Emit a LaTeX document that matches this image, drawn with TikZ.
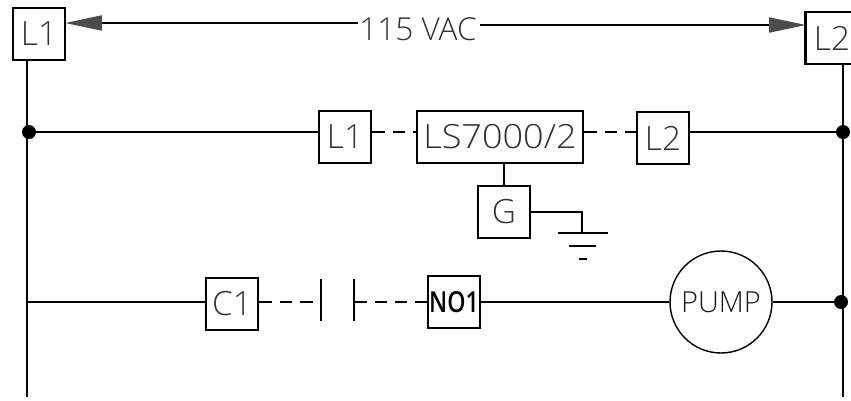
\documentclass[tikz,border=0pt]{standalone}
\usepackage{fontspec}
\setmainfont{Open Sans Light}
\usetikzlibrary{arrows.meta}
\tikzset{
    lbl/.style={draw, line width=1.2pt, inner sep=0pt, text=black!80, font=\fontsize{19}{19}\selectfont, minimum width=1.04cm, minimum height=1.04cm},
    wire/.style={line width=1.1pt},
    dashwire/.style={line width=1.1pt, dash pattern=on 0.25cm off 0.16cm},
    dot/.style={circle, fill=black, inner sep=0pt, minimum size=0.28cm},
    tip/.style={-{Triangle[length=0.74cm, width=0.3cm, color=black!70]}, line width=1.1pt}
}
\begin{document}
\begin{tikzpicture}[x=0.02cm, y=-0.02cm]
            \useasboundingbox (0, 0) rectangle (851, 400);
            \clip (0, 0) rectangle (851, 400);

            \def\xa{27};
            \def\xb{843};
            \def\ya{132};
            \def\yb{302};
            \def\yc{397};

            % top line
            \node[lbl](la) at (39, 34) {L1};
            \node[lbl, minimum width=1.06cm](lb) at (832, 38) {L2};
            \node[text=black!80, font=\fontsize{18}{18}\selectfont](volt) at (418, 29) {115 VAC};
            \draw[tip] (358, 23) -- (65, 23);
            \draw[tip] (480, 25) -- (806, 25);

            % rails
            \node[dot](da) at (29, \ya) {};
            \node[dot](db) at (843, \ya) {};
            \node[dot](dc) at (841, \yb) {};
            \coordinate(ea) at (\xa, \yc);
            \coordinate(eb) at (\xb, \yc);
            \coordinate(ra) at (\xa, \yb);
            \draw[wire] (\xa, 60) -- (ea);
            \draw[wire] (\xb, 64) -- (eb);

            % sensor row
            \node[lbl](lc) at (345, \ya+5) {L1};
            \node[lbl, minimum width=3.32cm](ls) at (500, \ya+5) {\scalebox{1.08}[1]{LS7000/2}};
            \node[lbl](ld) at (663, \ya+6) {L2};
            \draw[wire] (da) -- (lc.west |- da);
            \draw[dashwire] (lc.east |- da) -- (ls.west |- da);
            \draw[dashwire] (ls.east |- db) -- (ld.west |- db);
            \draw[wire] (ld.east |- db) -- (db);

            % ground
            \node[lbl](g) at (504, 212) {G};
            \draw[wire] (g.north |- ls.south) -- (g.north);
            \coordinate(gc) at (582, 233);
            \draw[wire] (g.east) -| (gc);
            \coordinate(ga) at (558, 233);
            \coordinate(gb) at (608, 233);
            \coordinate(gd) at (569, 246);
            \coordinate(ge) at (596, 246);
            \coordinate(gf) at (579, 259);
            \coordinate(gg) at (587, 259);
            \draw[wire] (ga) -- (gb);
            \draw[wire] (gd) -- (ge);
            \draw[wire] (gf) -- (gg);

            % pump row
            \node[lbl](ca) at (232, 304) {C1};
            \node[lbl, text=black, font=\fontsize{16.5}{16.5}\selectfont\bfseries](no) at (454, 302) {\scalebox{0.8}[1]{NO1}};
            \node[draw, circle, line width=0.8pt, inner sep=0pt, minimum size=2.04cm, text=black!90, font=\fontsize{16.5}{16.5}\selectfont](pump) at (721, \yb) {PUMP};
            \coordinate(ka) at (321, \yb);
            \coordinate(kb) at (354, \yb);
            \draw[wire] (321, 279) -- (321, 321);
            \draw[wire] (354, 279) -- (354, 321);
            \draw[wire] (ra) -- (ca.west |- ra);
            \draw[dashwire] (ca.east |- ka) -- (ka);
            \draw[dashwire] (kb) -- (no.west |- kb);
            \draw[wire] (no.east |- pump) -- (pump.west);
            \draw[wire] (pump.east) -- (dc);
        \end{tikzpicture}
\end{document}
